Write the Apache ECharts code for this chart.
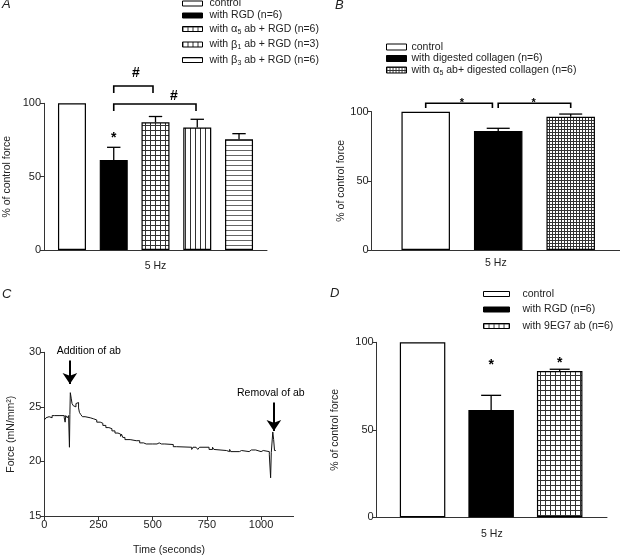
<!DOCTYPE html>
<html><head><meta charset="utf-8">
<script src="https://cdn.jsdelivr.net/npm/echarts@6/dist/echarts.min.js"></script>
<style>html,body{margin:0;padding:0;background:#fff}#c{width:620px;height:557px}</style>
</head><body><div id="c"></div>
<script>
// ---------- DATA ----------
// Panel A
const xNameA = '5 Hz';
const groupsA = ['control', 'with RGD (n=6)', 'with {g|α}{s|5} ab + RGD (n=6)', 'with {g|β}{s|1} ab + RGD (n=3)', 'with {g|β}{s|3} ab + RGD (n=6)'];
const posA = [1, 2, 3, 4, 5];
const meanA = [100, 61.3, 87, 83.5, 75.5];
const semA = [0, 8.7, 4, 5.6, 3.8];
const bracketsA = [[2, 2.94, 111.8, 4.8], [2, 3.97, 99.5, 4.7]];
const marksA = [[2.53, 120.5, '#'], [3.44, 105, '#'], [2, 76.3, '*']];
// Panel B
const xNameB = '5 Hz';
const groupsB = ['control', 'with digested collagen (n=6)', 'with {g|α}{s|5} ab+ digested collagen (n=6)'];
const posB = [1, 2, 3];
const meanB = [100, 86, 96.4];
const semB = [0, 2, 1.9];
const bracketsB = [[1, 1.92, 106.1, 3.5], [2.0, 3, 106.1, 3.5]];
const marksB = [[1.5, 106.3, '*'], [2.49, 106.3, '*']];
// Panel C
const xNameC = 'Time (seconds)';
const yNameC = 'Force (mN/mm²)';
const xTicksC = [0, 250, 500, 750, 1000];
const timeC = [0, 8, 14, 22, 30, 36, 48, 55, 68, 75, 92, 96, 99, 106, 112, 116, 118, 120, 124, 128, 134, 140, 146, 152, 158, 162, 168, 176, 188, 212, 228, 242, 258, 270, 284, 298, 312, 326, 340, 352, 356, 362, 372, 396, 424, 430, 440, 458, 470, 478, 500, 506, 520, 530, 540, 548, 556, 595, 610, 680, 686, 700, 708, 716, 760, 776, 782, 790, 840, 855, 860, 900, 910, 945, 955, 960, 975, 1000, 1010, 1038, 1044, 1047, 1050, 1054, 1058, 1062, 1068];
const forceC = [23.8, 24.0, 24.1, 24.2, 24.0, 24.2, 24.1, 24.2, 24.3, 24.2, 24.0, 23.6, 24.2, 24.0, 24.2, 21.3, 24.3, 26.3, 25.8, 25.3, 25.1, 25.0, 25.3, 25.4, 24.9, 24.5, 24.3, 24.1, 24.0, 23.9, 23.8, 23.6, 23.5, 23.3, 23.1, 23.0, 22.8, 22.6, 22.5, 22.3, 22.5, 22.2, 22.0, 21.9, 22.05, 21.9, 21.7, 21.6, 21.75, 21.6, 21.7, 21.6, 21.7, 21.6, 21.7, 21.6, 21.55, 21.35, 21.3, 21.1, 21.3, 21.3, 21.1, 21.3, 21.1, 21.3, 21.1, 21.0, 20.9, 21.1, 20.9, 21.0, 20.9, 21.05, 20.95, 21.05, 20.9, 21.0, 20.9, 20.6, 18.5, 20.8, 21.6, 22.7, 22.0, 21.0, 21.0];
const arrowsC = [[118, 29.25, 27.1], [1059, 25.4, 22.8]];
const notesC = [[205, 30.15, 'Addition of ab'], [1045, 26.3, 'Removal of ab']];
// Panel D
const xNameD = '5 Hz';
const groupsD = ['control', 'with RGD (n=6)', 'with 9EG7 ab (n=6)'];
const posD = [1, 2, 3];
const meanD = [100, 61.3, 83.6];
const semD = [0, 8.4, 1];
const marksD = [[2, 87, '*'], [3, 88, '*']];
const yNameBar = '% of control force';

// ---------- STYLE ----------
const FONT = 'Liberation Sans';
const TXT = '#222';
function pattern(step, kind, col) {
  const c = document.createElement('canvas');
  c.width = step; c.height = step;
  const g = c.getContext('2d');
  g.fillStyle = '#fff'; g.fillRect(0, 0, step, step);
  g.fillStyle = col || '#333';
  if (kind === 'grid' || kind === 'h') g.fillRect(0, 0, step, 1);
  if (kind === 'grid' || kind === 'v') g.fillRect(0, 0, 1, step);
  return { image: c, repeat: 'repeat' };
}
const fillsA = ['#fff', '#000', pattern(5, 'grid'), pattern(5, 'v'), pattern(5, 'h', '#666')];
const fillsB = ['#fff', '#000', pattern(3, 'grid')];
const fillsD = ['#fff', '#000', pattern(5, 'grid')];

const rich = {
  g: { fontFamily: FONT, fontSize: 11, color: TXT },
  s: { fontFamily: FONT, fontSize: 7, color: TXT, padding: [6, 0, 0, 0] }
};

function barSeries(names, pos, mean, fills, gi, w) {
  return names.map((n, i) => ({
    type: 'bar', name: n, xAxisIndex: gi, yAxisIndex: gi,
    data: [[pos[i], mean[i]]], barWidth: w, barGap: '-100%',
    itemStyle: { color: fills[i], borderColor: '#000', borderWidth: 1.2 },
    silent: true, animation: false
  }));
}
function errSeries(pos, mean, sem, gi, capHalf) {
  return {
    type: 'custom', xAxisIndex: gi, yAxisIndex: gi, z: 5, silent: true, animation: false,
    encode: { x: 0, y: 1 },
    data: pos.map((p, i) => [p, mean[i], sem[i]]),
    renderItem: function (params, api) {
      const x = api.value(0), m = api.value(1), e = api.value(2);
      if (!e) return null;
      const p0 = api.coord([x, m]), p1 = api.coord([x, m + e]);
      const st = { stroke: '#000', lineWidth: 1.3 };
      return { type: 'group', children: [
        { type: 'line', shape: { x1: p0[0], y1: p0[1], x2: p1[0], y2: p1[1] }, style: st },
        { type: 'line', shape: { x1: p1[0] - capHalf, y1: p1[1], x2: p1[0] + capHalf, y2: p1[1] }, style: st }
      ] };
    }
  };
}
function bracketSeries(br, gi) {
  return {
    type: 'custom', xAxisIndex: gi, yAxisIndex: gi, z: 5, silent: true, animation: false,
    encode: { x: [0, 1], y: 2 }, data: br,
    renderItem: function (params, api) {
      const x1 = api.value(0), x2 = api.value(1), lv = api.value(2), dr = api.value(3);
      const pts = [api.coord([x1, lv - dr]), api.coord([x1, lv]), api.coord([x2, lv]), api.coord([x2, lv - dr])];
      return { type: 'polyline', shape: { points: pts }, style: { stroke: '#000', fill: null, lineWidth: 1.6 } };
    }
  };
}
function textSeries(marks, gi, font) {
  return {
    type: 'custom', xAxisIndex: gi, yAxisIndex: gi, z: 6, silent: true, animation: false,
    encode: { x: 0, y: 1 }, data: marks.map(m => [m[0], m[1]]),
    renderItem: function (params, api) {
      const p = api.coord([api.value(0), api.value(1)]);
      return { type: 'text', x: p[0], y: p[1], style: { text: marks[params.dataIndex][2], fill: '#000', font: font, align: 'center', verticalAlign: 'middle' } };
    }
  };
}
function legends(names, left, tops, iw, ih, pad) {
  return names.map((n, i) => ({
    data: [n], left: left, top: tops[i], orient: 'vertical', padding: 0, icon: 'rect',
    itemWidth: iw, itemHeight: ih, selectedMode: false,
    itemStyle: { borderColor: '#000', borderWidth: 1 },
    textStyle: { fontFamily: FONT, fontSize: 10.5, color: TXT, rich: rich, padding: [0, 0, 0, pad] }
  }));
}
const axLine = { show: true, lineStyle: { color: '#333', width: 1 } };
const lbl = { fontFamily: FONT, fontSize: 11, color: TXT, margin: 3 };
const nameStyle = { fontFamily: FONT, fontSize: 10.5, color: TXT };
function barX(gi, min, max, name, gap) {
  return { gridIndex: gi, type: 'value', min: min, max: max, name: name, nameLocation: 'middle', nameGap: gap,
    nameTextStyle: nameStyle, axisLine: axLine, axisTick: { show: false }, axisLabel: { show: false }, splitLine: { show: false } };
}
function barY(gi, gap) {
  return { gridIndex: gi, type: 'value', min: 0, max: 100, interval: 50, name: yNameBar, nameLocation: 'middle', nameGap: gap,
    nameTextStyle: nameStyle, axisLine: axLine, axisTick: { show: true, length: 4, lineStyle: { color: '#333' } },
    axisLabel: lbl, splitLine: { show: false } };
}
const titleStyle = { fontFamily: FONT, fontSize: 13, fontStyle: 'italic', fontWeight: 'normal', color: TXT };

const option = {
  animation: false,
  backgroundColor: '#fff',
  title: [
    { text: 'A', left: 2, top: -2, padding: 0, textStyle: titleStyle },
    { text: 'B', left: 335, top: -1, padding: 0, textStyle: titleStyle },
    { text: 'C', left: 2, top: 288, padding: 0, textStyle: titleStyle },
    { text: 'D', left: 330, top: 287, padding: 0, textStyle: titleStyle }
  ],
  grid: [
    { left: 44, right: 353, top: 103.3, bottom: 307 },
    { left: 371.7, right: 0, top: 111.7, bottom: 307 },
    { left: 44.3, right: 326.4, top: 352.3, bottom: 40.3 },
    { left: 376.7, right: 13, top: 342.3, bottom: 39.7 }
  ],
  legend: [].concat(
    legends(groupsA, 182, [-2, 10, 23.5, 39, 54.5], 20, 5, 2),
    legends(groupsB, 386, [41.5, 53, 64.5], 20, 6, 0),
    legends(groupsD, 483, [288.5, 304, 320.5], 26, 5, 8)
  ),
  xAxis: [
    barX(0, 0.33, 5.67, xNameA, 11),
    barX(1, 0.255, 3.68, xNameB, 8),
    { gridIndex: 2, type: 'value', min: 0, max: 1150, name: xNameC, nameLocation: 'middle', nameGap: 29,
      nameTextStyle: nameStyle, axisLine: axLine,
      axisTick: { show: true, length: 4, lineStyle: { color: '#333' }, customValues: xTicksC },
      axisLabel: Object.assign({}, lbl, { customValues: xTicksC, formatter: v => String(v) }), splitLine: { show: false } },
    barX(3, 0.331, 3.69, xNameD, 11)
  ],
  yAxis: [
    barY(0, 31),
    barY(1, 24),
    { gridIndex: 2, type: 'value', min: 15, max: 30, interval: 5, name: yNameC, nameLocation: 'middle', nameGap: 28,
      nameTextStyle: nameStyle, axisLine: axLine, axisTick: { show: true, length: 4, lineStyle: { color: '#333' } },
      axisLabel: lbl, splitLine: { show: false } },
    barY(3, 36)
  ],
  series: [].concat(
    barSeries(groupsA, posA, meanA, fillsA, 0, 28),
    [errSeries(posA, meanA, semA, 0, 6.7), bracketSeries(bracketsA, 0), textSeries(marksA, 0, 'bold 14px "Liberation Sans"')],
    barSeries(groupsB, posB, meanB, fillsB, 1, 48.5),
    [errSeries(posB, meanB, semB, 1, 11.5), bracketSeries(bracketsB, 1), textSeries(marksB, 1, 'bold 11px "Liberation Sans"')],
    [{
      type: 'line', xAxisIndex: 2, yAxisIndex: 2, step: 'end', symbol: 'none', silent: true, animation: false,
      data: timeC.map((t, i) => [t, forceC[i]]),
      lineStyle: { color: '#111', width: 1 },
      markLine: {
        silent: true, animation: false, symbol: ['none', 'arrow'], symbolSize: 11,
        label: { show: false }, lineStyle: { color: '#000', width: 2, type: 'solid' },
        data: arrowsC.map(a => [{ coord: [a[0], a[1]] }, { coord: [a[0], a[2]] }])
      }
    }, textSeries(notesC, 2, '10.5px "Liberation Sans"')],
    barSeries(groupsD, posD, meanD, fillsD, 3, 45.5),
    [errSeries(posD, meanD, semD, 3, 10), textSeries(marksD, 3, 'bold 14px "Liberation Sans"')]
  )
};
const chart = echarts.init(document.getElementById('c'), null, { renderer: 'canvas' });
chart.setOption(option);
</script></body></html>
